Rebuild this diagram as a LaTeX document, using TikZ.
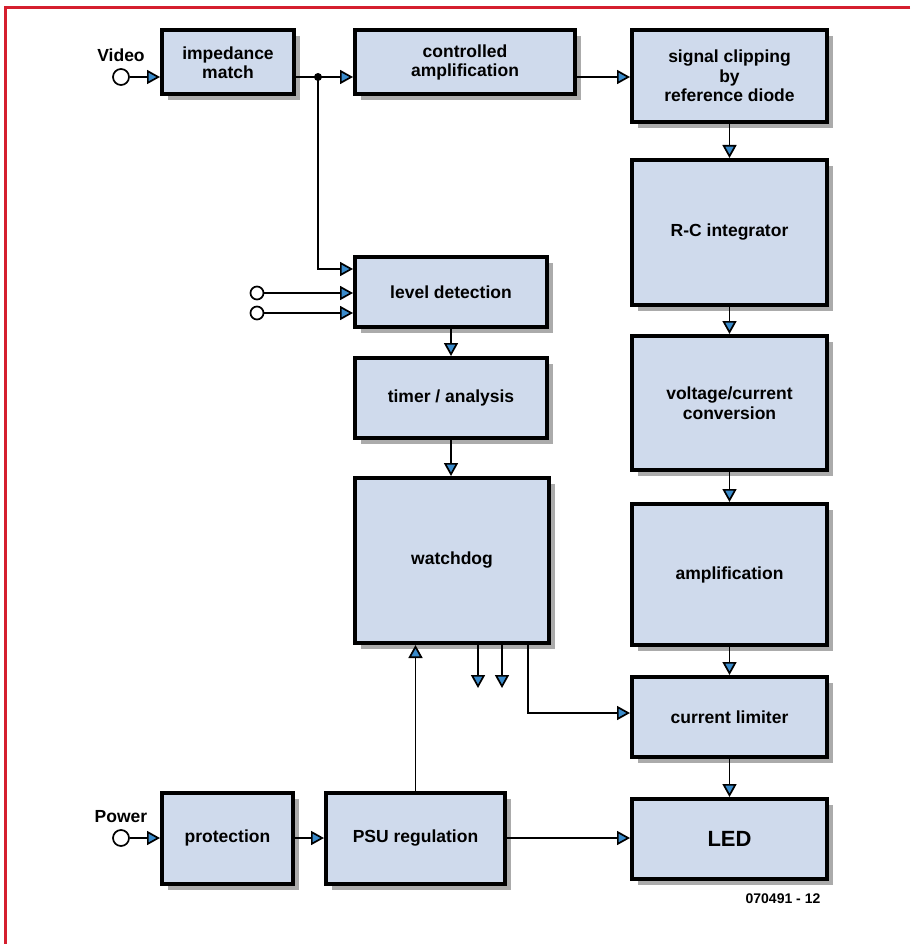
\documentclass[tikz,border=0pt]{standalone}
\usepackage{fontspec}
\setmainfont{Liberation Sans}
\usetikzlibrary{arrows.meta,shadows}

\definecolor{boxblue}{HTML}{CFDAEC}
\definecolor{tipblue}{HTML}{3A8BCB}
\definecolor{framered}{HTML}{D51F2E}

\tikzset{
    blk/.style={draw, line width=4pt, fill=boxblue, align=center,
        font=\bfseries\fontsize{17.5}{19.5}\selectfont,
        drop shadow={shadow xshift=6pt, shadow yshift=-6pt, fill=black!33, opacity=1}},
    conn/.style={line width=1.7pt, -{Triangle[length=13pt,width=14pt,fill=tipblue]}},
    wire/.style={line width=1.7pt},
    port/.style={circle, draw, line width=1.7pt, fill=white, minimum size=16pt, inner sep=0pt},
    lbl/.style={font=\bfseries\fontsize{17.5}{19.5}\selectfont}
}

\begin{document}
\begin{tikzpicture}[x=1pt,y=-1pt]

    \useasboundingbox (0,0) rectangle (910,944);

    %frame:
    \draw[framered, line width=3pt] (910,7.5) -- (5.5,7.5) -- (5.5,944);

    %signal path:
    \node[blk, minimum width=132pt, minimum height=64pt] (imp) at (228,62.5) {impedance\\match};
    \node[blk, minimum width=220pt, minimum height=64pt] (ctrl) at (465,62.5) {controlled\\amplification};
    \node[blk, minimum width=195pt, minimum height=92pt] (clip) at (729.5,76) {signal clipping\\by\\reference diode};
    \node[blk, minimum width=195pt, minimum height=145pt] (rc) at (729.5,232.5) {R-C integrator};
    \node[blk, minimum width=195pt, minimum height=134pt] (vc) at (729.5,403) {voltage/current\\conversion};
    \node[blk, minimum width=195pt, minimum height=141pt] (amp) at (729.5,574.5) {amplification};
    \node[blk, minimum width=195pt, minimum height=80pt] (lim) at (729.5,717) {current limiter};
    \node[blk, minimum width=195pt, minimum height=80pt, font=\bfseries\fontsize{22}{24}\selectfont] (led) at (729.5,839) {LED};

    %detection path:
    \node[blk, minimum width=192pt, minimum height=70pt] (lev) at (451,292) {level detection};
    \node[blk, minimum width=192pt, minimum height=80pt] (tim) at (451,398) {timer / analysis};
    \node[blk, minimum width=194pt, minimum height=165pt] (wd) at (452,560.5) {watchdog};

    %supply path:
    \node[blk, minimum width=131pt, minimum height=91pt] (prot) at (227.5,838) {protection};
    \node[blk, minimum width=179pt, minimum height=91pt] (psu) at (415.5,838) {PSU regulation};

    %inputs:
    \node[port] (vid) at (121,77) {};
    \node[lbl, above=3pt] at (vid.north) {Video};
    \node[port, minimum size=13pt] (lv1) at (257,293) {};
    \node[port, minimum size=13pt] (lv2) at (257,313) {};
    \node[port] (pwr) at (121,838) {};
    \node[lbl, above=3pt] at (pwr.north) {Power};

    \coordinate (split) at (318,77);
    \coordinate (wo1) at (478,688);
    \coordinate (wo2) at (502,688);

    %connections:
    \draw[conn] (vid) -- (vid -| imp.west);
    \draw[wire] (vid -| imp.east) -- (split);
    \fill (split) circle (4pt);
    \draw[conn] (split) -- (split -| ctrl.west);
    \draw[conn] (split -| ctrl.east) -- (split -| clip.west);
    \draw[conn] (split) |- ([yshift=23pt]lev.west);
    \draw[conn] (lv1) -- (lv1 -| lev.west);
    \draw[conn] (lv2) -- (lv2 -| lev.west);

    \draw[conn] (clip) -- (rc);
    \draw[conn] (rc) -- (vc);
    \draw[conn] (vc) -- (amp);
    \draw[conn] (amp) -- (lim);
    \draw[conn] (lim) -- (led);

    \draw[conn] (lev) -- (tim);
    \draw[conn] (tim.south) -- (tim.south |- wd.north);
    \draw[conn] (wo1 |- wd.south) -- (wo1);
    \draw[conn] (wo2 |- wd.south) -- (wo2);
    \draw[conn] ([xshift=76pt]wd.south) |- ([yshift=4pt]lim.west);

    \draw[conn] (pwr) -- (prot);
    \draw[conn] (prot) -- (psu);
    \draw[conn] (psu.east) -- (psu.east -| led.west);
    \draw[conn] (psu.north) -- (psu.north |- wd.south);

    \node[font=\bfseries\fontsize{14}{16}\selectfont] (code) at (783,899) {070491 - 12};

\end{tikzpicture}
\end{document}
